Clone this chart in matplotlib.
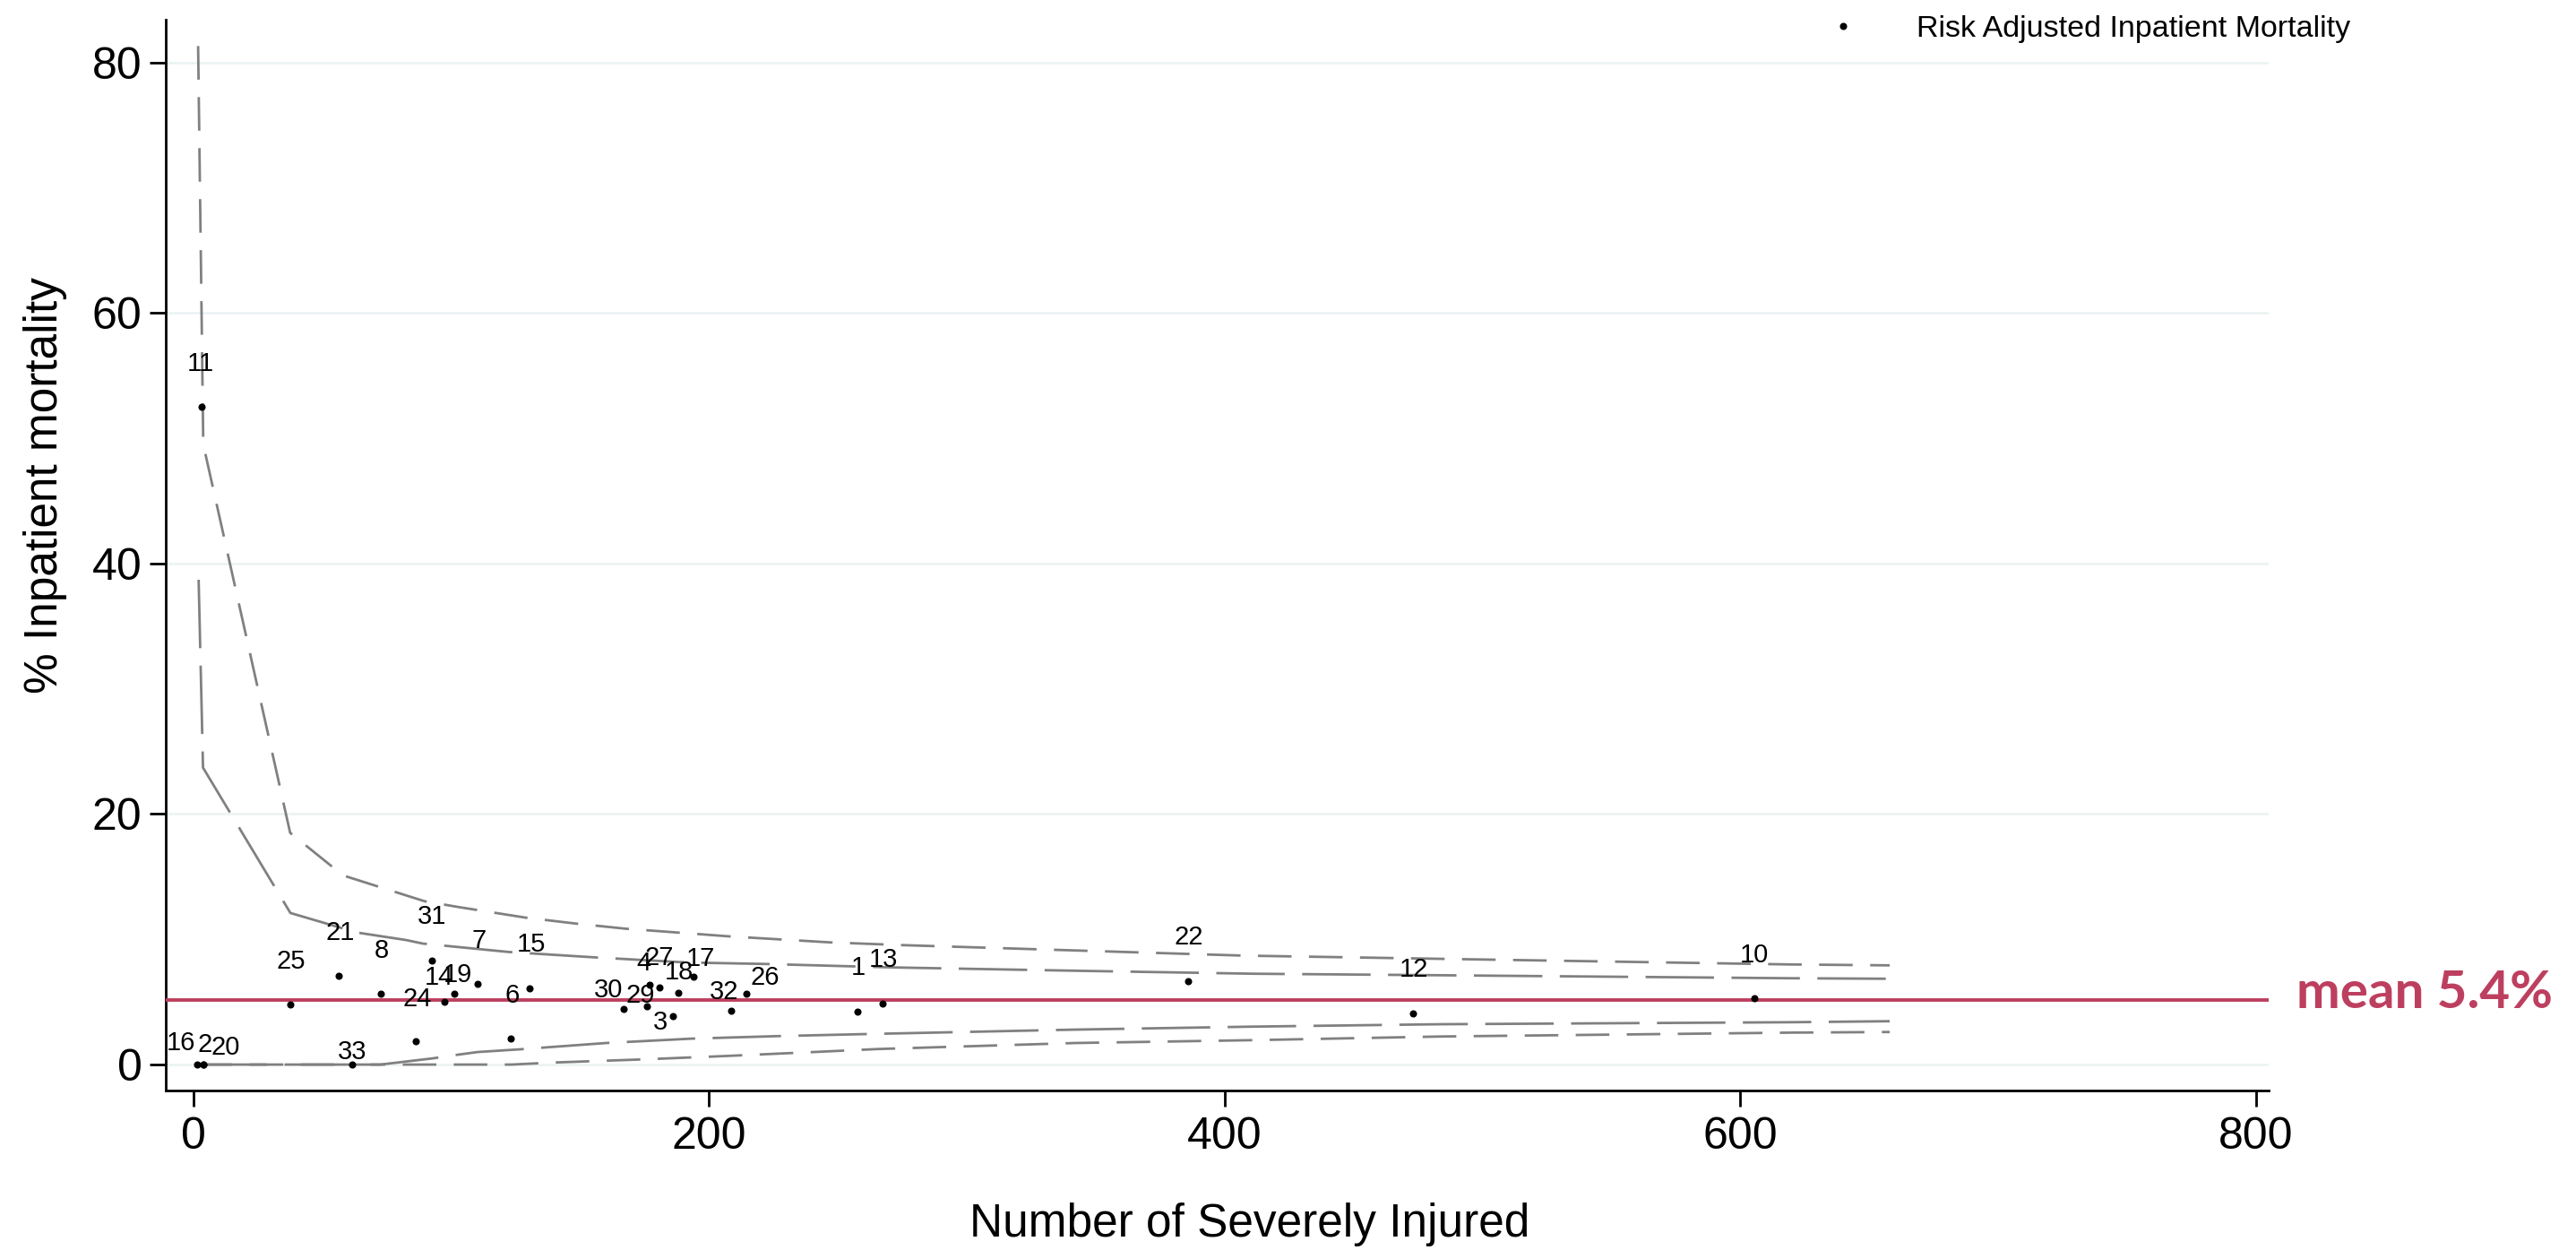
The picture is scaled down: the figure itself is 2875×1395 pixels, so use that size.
import matplotlib.pyplot as plt
import numpy as np

plt.rcParams['font.family'] = ['Liberation Sans', 'DejaVu Sans']
plt.rcParams['lines.scale_dashes'] = False

# hospitals: id, number of severely injured, risk adjusted inpatient mortality (%)
hosp_id = [16, 2, 20, 11, 25, 21, 33, 8, 24, 31, 14, 19, 7, 6, 15,
           30, 29, 4, 27, 3, 18, 17, 32, 26, 1, 13, 22, 12, 10]
n_injured = [1.4, 4.0, 4.0, 3.0, 37.6, 56.5, 61.6, 72.5, 86.3, 92.4, 97.3, 101.2, 110.3, 123.2, 130.2,
             167.0, 175.9, 177.1, 180.8, 185.8, 187.9, 193.8, 208.7, 214.6, 257.4, 267.3, 385.7, 473.1, 605.5]
mortality = [0.0, 0.0, 0.0, 52.5, 4.82, 7.06, 0.0, 5.65, 1.84, 8.32, 4.98, 5.65, 6.44, 2.07, 6.08,
             4.46, 4.67, 6.34, 6.17, 3.84, 5.74, 7.01, 4.27, 5.65, 4.22, 4.84, 6.67, 4.08, 5.32]
mean_mort = 5.15
mean_text = "mean 5.4%"

# control limits
up99_x = [1.8, 3.8, 37.5, 58.0, 89.6, 102.9, 128.8, 148.5, 167.4, 208.0, 247.2, 274.2, 341.9, 406.8, 483.7, 619.9, 658]
up99_y = [81.3, 49.5, 18.5, 15.1, 13.04, 12.57, 11.73, 11.25, 10.85, 10.23, 9.75, 9.54, 9.11, 8.7, 8.44, 7.99, 7.92]
up95_x = [2.0, 3.7, 37.6, 63.4, 82.5, 88.9, 122.1, 155.4, 191.3, 221.8, 253.8, 272.4, 341.9, 411.4, 483.7, 619.9, 658]
up95_y = [38.7, 23.7, 12.1, 10.54, 9.94, 9.66, 8.99, 8.56, 8.15, 8.03, 7.85, 7.75, 7.49, 7.25, 7.13, 6.89, 6.85]
lo95_x = [2.0, 72.5, 93.0, 101.6, 110.2, 126.8, 160.0, 193.3, 226.5, 259.8, 341.9, 411.4, 483.7, 619.9, 658]
lo95_y = [0.0, 0.0, 0.5, 0.76, 1.0, 1.22, 1.72, 2.07, 2.27, 2.43, 2.79, 3.03, 3.22, 3.38, 3.46]
lo99_x = [2.0, 123.2, 140.7, 174.0, 207.2, 240.5, 265.5, 341.9, 411.4, 483.7, 619.9, 658]
lo99_y = [0.0, 0.0, 0.17, 0.41, 0.69, 1.0, 1.24, 1.72, 1.95, 2.24, 2.55, 2.6]

# label offsets in pixels (label centre relative to dot)
lab_off = {16: (-18, 24), 2: (1, 22), 20: (24, 19), 11: (-1, 48), 25: (1, 48), 21: (1, 48),
           33: (0, 14), 8: (1, 48), 24: (1, 47), 31: (0, 49), 14: (-6, 27), 19: (4, 21),
           7: (1, 48), 6: (1, 48), 15: (2, 49), 30: (-17, 21), 29: (-7, 12), 4: (-7, 24),
           27: (0, 33), 3: (-14, -7), 18: (1, 23), 17: (8, 20), 32: (-8, 21), 26: (20, 18),
           1: (1, 49), 13: (1, 49), 22: (1, 49), 12: (1, 49), 10: (0, 48)}

red = '#BD3F5F'
grey = '#808080'

fig = plt.figure(figsize=(28.75, 13.95), dpi=100)
ax = fig.add_axes([0.0643, 0.1276, 0.8164, 0.8566])

for yv in [0, 20, 40, 60, 80]:
    ax.axhline(yv, color='#EAF2F3', lw=1.8, zorder=0)

ax.plot(up99_x, up99_y, color=grey, lw=2.0, dashes=(27, 14), zorder=2)
ax.plot(lo99_x, lo99_y, color=grey, lw=2.0, dashes=(27, 14), zorder=2)
ax.plot(up95_x, up95_y, color=grey, lw=2.0, dashes=(55, 14), zorder=2)
ax.plot(lo95_x, lo95_y, color=grey, lw=2.0, dashes=(55, 14), zorder=2)

ax.axhline(mean_mort, color=red, lw=2.8, zorder=3)

ax.plot(n_injured, mortality, 'o', color='black', ms=4.8, ls='none', zorder=4,
        label='Risk Adjusted Inpatient Mortality')

for hid, xv, yv in zip(hosp_id, n_injured, mortality):
    dx, dy = lab_off[hid]
    ax.annotate(str(hid), (xv, yv), xytext=(dx, dy), textcoords='offset pixels',
                ha='center', va='center', fontsize=21,
                family=['Liberation Sans Narrow', 'Liberation Sans'], zorder=5)

ax.annotate(mean_text, (1, mean_mort), xycoords=ax.get_yaxis_transform(),
            xytext=(31, 8), textcoords='offset pixels', ha='left', va='center',
            fontsize=42, fontweight='bold', family=['Lato', 'DejaVu Sans'], color=red,
            annotation_clip=False)

ax.set_xlim(-10.8, 805)
ax.set_ylim(-2.07, 83.4)
ax.set_xticks([0, 200, 400, 600, 800])
ax.set_yticks([0, 20, 40, 60, 80])
ax.tick_params(labelsize=36, length=13, width=2, direction='out', pad=8)
ax.tick_params(axis='y', pad=6)
for s in ['top', 'right']:
    ax.spines[s].set_visible(False)
for s in ['left', 'bottom']:
    ax.spines[s].set_linewidth(2)

ax.set_xlabel('Number of Severely Injured', fontsize=37)
ax.set_ylabel('% Inpatient mortality', fontsize=37)
ax.xaxis.set_label_coords(0.5155, -0.1247)
ax.xaxis.label.set_va('center')
ax.yaxis.set_label_coords(-0.0571, 0.5657)
ax.yaxis.label.set_va('center')

fig.legend(loc='center left', bbox_to_anchor=(2040 / 2875, 1 - 32 / 1395), frameon=False,
           fontsize=24.5, handlelength=1.0, handletextpad=1.9, borderpad=0, borderaxespad=0)

fig.savefig('out.png', dpi=100)
